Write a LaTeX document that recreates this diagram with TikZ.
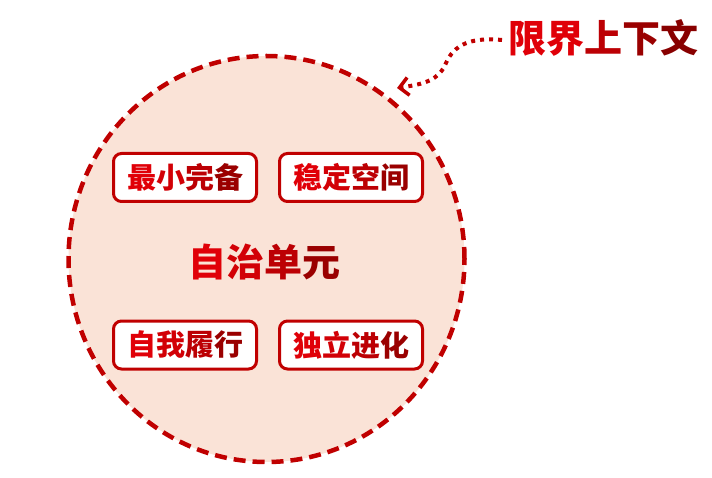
\documentclass[tikz,border=0pt]{standalone}
\usepackage{fontspec}
\newfontfamily\cjk{Noto Sans CJK SC}
\usetikzlibrary{arrows.meta,shapes.geometric}
\definecolor{fillpeach}{HTML}{FAE3D7}
\definecolor{edgered}{HTML}{C00000}
\definecolor{ga}{HTML}{E00008}
\definecolor{gb}{HTML}{D20006}
\definecolor{gc}{HTML}{BC0004}
\definecolor{gd}{HTML}{9A0000}
\definecolor{ge}{HTML}{880000}
\newcommand{\gradfour}[4]{\textcolor{ga}{#1}\textcolor{gb}{#2}\textcolor{gc}{#3}\textcolor{gd}{#4}}
\newcommand{\gradfive}[5]{\textcolor{ga}{#1}\textcolor{ga}{#2}\textcolor{gc}{#3}\textcolor{gd}{#4}\textcolor{ge}{#5}}
\begin{document}
\begin{tikzpicture}[x=1pt,y=-1pt,
  pill/.style={draw=edgered,fill=white,line width=3pt,rounded corners=8pt,
    minimum width=143pt,minimum height=48pt,inner sep=0pt,
    font=\cjk\bfseries\fontsize{29}{31}\selectfont},
  bigtext/.style={font=\cjk\bfseries\fontsize{38}{40}\selectfont,inner sep=0pt},
  boundary/.style={draw=edgered,fill=fillpeach,line width=4.5pt,dash pattern=on 12pt off 7pt},
  pointer/.style={draw=edgered,line width=4pt,line cap=butt,dash pattern=on 4pt off 5pt,
    -{Straight Barb[length=9pt,width=18pt,line width=3.5pt,line cap=butt]}}
]
\useasboundingbox (0,0) rectangle (712,478);
\node[boundary,ellipse,minimum width=396pt,minimum height=406pt,inner sep=0pt] (unit) at (266.5,259) {};
\node[bigtext] (center) at (264,262) {\gradfour{自}{治}{单}{元}};
\node[pill] (b1) at (185,177.5) {\gradfour{最}{小}{完}{备}};
\node[pill] (b2) at (351,177.5) {\gradfour{稳}{定}{空}{间}};
\node[pill] (b3) at (185,345) {\gradfour{自}{我}{履}{行}};
\node[pill] (b4) at (351,345) {\gradfour{独}{立}{进}{化}};
\node[bigtext,anchor=west] (title) at (508,38) {\gradfive{限}{界}{上}{下}{文}};
\coordinate (tip) at (397,88);
\coordinate (bend) at (446,63);
\draw[pointer] ([xshift=-6pt,yshift=-2pt]title.west) .. controls (470,37) and (454,45) .. (bend)
  .. controls (439,80) and (425,84) .. (tip);
\end{tikzpicture}
\end{document}
